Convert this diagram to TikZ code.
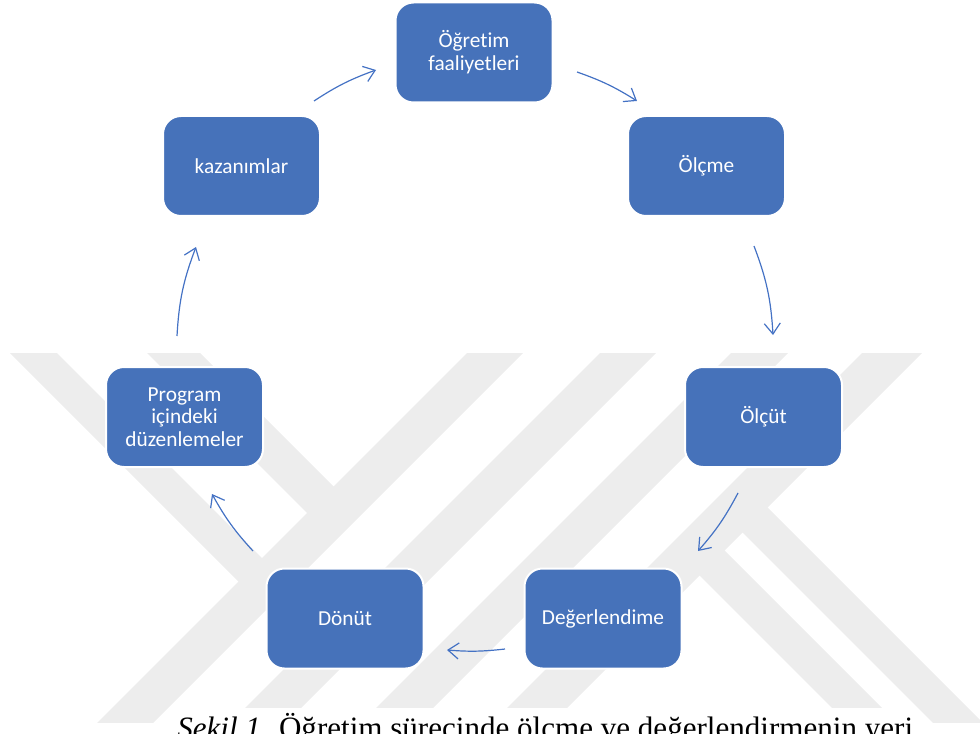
\documentclass[tikz,border=0pt]{standalone}
\usepackage{fontspec}
\setmainfont{Carlito}[Ligatures=NoCommon]
\newfontfamily\capfont{Liberation Serif}
\usetikzlibrary{arrows.meta}
\definecolor{boxblue}{HTML}{4672BA}
\definecolor{wm}{RGB}{237,237,237}
\definecolor{arrowblue}{HTML}{4472C4}
\begin{document}
\begin{tikzpicture}[x=0.75pt,y=-0.75pt,
  stepbox/.style={draw=white, line width=1.5pt, fill=boxblue, rounded corners=13.5pt,
    minimum width=117.75pt, minimum height=75pt, text=white, align=center,
    font=\fontsize{16}{17}\selectfont, inner sep=2pt},
  cyc/.style={draw=arrowblue, line width=0.9pt,
    -{Straight Barb[length=8pt,width=12pt,line width=0.9pt]}},
  wmband/.style={fill=wm, draw=none}
]
\useasboundingbox (0,0) rectangle (980,734);
\clip (0,0) rectangle (980,734);
% watermark
\begin{scope}
  \clip (0,353) rectangle (980,722);
  \fill[wmband] (520,300) -- (576,300) -- (96,780) -- (40,780) -- cycle;
  \fill[wmband] (653,300) -- (709,300) -- (229,780) -- (173,780) -- cycle;
  \fill[wmband] (784,300) -- (841,300) -- (361,780) -- (304,780) -- cycle;
  \fill[wmband] (915,300) -- (975,300) -- (495,780) -- (435,780) -- cycle;
  \fill[wmband] (-43,300) -- (4,300) -- (276,572) -- (252.5,595.5) -- cycle;
  \fill[wmband] (94,300) -- (147,300) -- (347.5,500.5) -- (321,527) -- cycle;
  \fill[wmband] (752.5,492.5) -- (1050,790) -- (1050,840) -- (727.5,517.5) -- cycle;
  \fill[wmband] (709.5,535.5) -- (1050,876) -- (1050,926) -- (684.5,560.5) -- cycle;
\end{scope}
% boxes
\node[stepbox] (ogr) at (474,52.5) {Öğretim\\faaliyetleri};
\node[stepbox] (olc) at (706.5,166) {Ölçme};
\node[stepbox] (olt) at (763.5,417) {Ölçüt};
\node[stepbox] (deg) at (603,618.5) {Değerlendime};
\node[stepbox] (don) at (345,618.5) {Dönüt};
\node[stepbox] (prg) at (184.5,417) {Program\\içindeki\\düzenlemeler};
\node[stepbox] (kaz) at (241.5,166) {kazanımlar};
% arrow end points
\coordinate (a1s) at (314,101); \coordinate (a1e) at (376,70);
\coordinate (a2s) at (577,72);  \coordinate (a2e) at (637,101);
\coordinate (a3s) at (754,246); \coordinate (a3e) at (773,335);
\coordinate (a4s) at (738,493); \coordinate (a4e) at (698,551);
\coordinate (a5s) at (505,649); \coordinate (a5e) at (447,650);
\coordinate (a6s) at (253,551); \coordinate (a6e) at (212,494);
\coordinate (a7s) at (177,336); \coordinate (a7e) at (196,247);
\draw[cyc] (a1s) to[bend left=6.7] (a1e);
\draw[cyc] (a2s) to[bend left=6.4] (a2e);
\draw[cyc] (a3s) to[bend left=8.7] (a3e);
\draw[cyc] (a4s) to[bend left=6.7] (a4e);
\draw[cyc] (a5s) to[bend left=5.5] (a5e);
\draw[cyc] (a6s) to[bend left=6.7] (a6e);
\draw[cyc] (a7s) to[bend left=8.8] (a7e);
% caption
\node[anchor=base west, inner xsep=3pt, inner ysep=4pt, fill=white, text=black,
  font=\capfont\fontsize{23.3}{28}\selectfont] (cap) at (173,738)
  {\textit{Şekil 1.} Öğretim sürecinde ölçme ve değerlendirmenin yeri};
\end{tikzpicture}
\end{document}
